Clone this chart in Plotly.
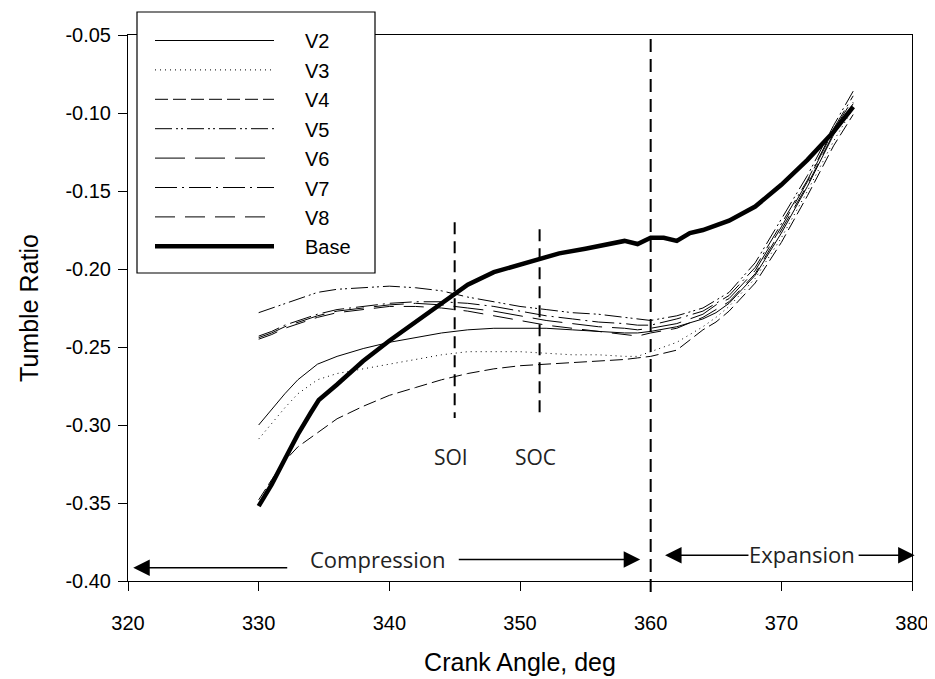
import plotly.graph_objects as go

# ---------------- data ----------------
crank_angle = [330, 331, 332, 333, 334.5, 336, 338, 340, 342, 344, 346, 348, 350, 352,
               354, 356, 358, 359, 360, 362, 364, 365, 366, 368, 370, 372, 374, 375.5]

v2 = [-0.300, -0.290, -0.280, -0.271, -0.261, -0.256, -0.251, -0.247, -0.244, -0.241,
      -0.239, -0.238, -0.238, -0.238, -0.239, -0.240, -0.241, -0.241, -0.240, -0.237,
      -0.232, -0.228, -0.222, -0.204, -0.177, -0.147, -0.114, -0.094]
v3 = [-0.309, -0.299, -0.289, -0.280, -0.271, -0.267, -0.264, -0.261, -0.258, -0.255,
      -0.253, -0.253, -0.253, -0.254, -0.255, -0.255, -0.256, -0.256, -0.253, -0.247,
      -0.237, -0.231, -0.224, -0.206, -0.180, -0.150, -0.118, -0.097]
v4 = [-0.348, -0.335, -0.323, -0.314, -0.305, -0.296, -0.288, -0.281, -0.276, -0.271,
      -0.267, -0.264, -0.262, -0.261, -0.260, -0.259, -0.258, -0.257, -0.256, -0.252,
      -0.239, -0.234, -0.227, -0.209, -0.183, -0.153, -0.121, -0.101]
v5 = [-0.228, -0.225, -0.222, -0.219, -0.215, -0.213, -0.212, -0.211, -0.212, -0.214,
      -0.218, -0.221, -0.224, -0.226, -0.228, -0.229, -0.231, -0.232, -0.233, -0.230,
      -0.225, -0.220, -0.215, -0.196, -0.168, -0.140, -0.108, -0.086]
v6 = [-0.244, -0.241, -0.237, -0.234, -0.230, -0.227, -0.225, -0.223, -0.222, -0.223,
      -0.225, -0.227, -0.230, -0.233, -0.235, -0.237, -0.238, -0.239, -0.238, -0.235,
      -0.229, -0.223, -0.219, -0.201, -0.173, -0.144, -0.111, -0.091]
v7 = [-0.243, -0.240, -0.236, -0.233, -0.229, -0.226, -0.224, -0.222, -0.221, -0.221,
      -0.222, -0.224, -0.227, -0.230, -0.232, -0.234, -0.235, -0.236, -0.236, -0.232,
      -0.227, -0.222, -0.217, -0.199, -0.171, -0.143, -0.110, -0.089]
v8 = [-0.245, -0.242, -0.238, -0.235, -0.231, -0.228, -0.226, -0.224, -0.224, -0.225,
      -0.227, -0.230, -0.233, -0.236, -0.238, -0.240, -0.242, -0.243, -0.241, -0.238,
      -0.231, -0.226, -0.221, -0.203, -0.175, -0.146, -0.113, -0.093]

base_angle = [330, 331, 332, 333, 334, 334.6, 336, 338, 340, 342, 344, 345, 346, 348, 350,
              351.5, 353, 355, 357, 358, 359, 360, 361, 362, 363, 364, 366, 368, 370,
              372, 374, 375.5]
base = [-0.352, -0.338, -0.322, -0.306, -0.292, -0.284, -0.274, -0.259, -0.246, -0.234,
        -0.222, -0.216, -0.210, -0.202, -0.197, -0.194, -0.190, -0.187, -0.184, -0.182,
        -0.184, -0.180, -0.180, -0.182, -0.177, -0.175, -0.169, -0.160, -0.146, -0.130,
        -0.112, -0.096]

series_names = ["V2", "V3", "V4", "V5", "V6", "V7", "V8"]
series_values = [v2, v3, v4, v5, v6, v7, v8]
series_dash = ["solid", "1px,4px", "13px,5px", "17px,4px,2px,3px,2px,4px",
               "30px,10px", "22px,5px,2px,5px", "20px,10px"]

x_ticks = [320, 330, 340, 350, 360, 370, 380]
y_ticks = [-0.05, -0.10, -0.15, -0.20, -0.25, -0.30, -0.35, -0.40]

markers_x = {"SOI": 345.0, "SOC": 351.5}

FONT = "Liberation Sans, Arial, sans-serif"
ANNOT_FONT = "Open Sans, sans-serif"

fig = go.Figure()

for name, vals, dash in zip(series_names, series_values, series_dash):
    fig.add_trace(go.Scatter(x=crank_angle, y=vals, mode="lines", name=name,
                             line=dict(color="black", width=1, dash=dash),
                             showlegend=False))

fig.add_trace(go.Scatter(x=base_angle, y=base, mode="lines", name="Base",
                         line=dict(color="black", width=4.5), showlegend=False))

# ---------- vertical markers ----------
for lbl, xv in markers_x.items():
    top = -0.170 if lbl == "SOI" else -0.1745
    fig.add_shape(type="line", xref="x", yref="y", x0=xv, x1=xv, y0=top, y1=-0.2955,
                  line=dict(color="black", width=2, dash="12px,7px"))
    fig.add_annotation(x=xv - 0.3, y=-0.3205, text=lbl, showarrow=False,
                       font=dict(family=ANNOT_FONT, size=21, color="#222"))

fig.add_shape(type="line", xref="x", yref="paper", x0=360, x1=360, y0=-0.02, y1=1.004,
              line=dict(color="black", width=2, dash="13px,7px"))

# ---------- compression / expansion arrows ----------
def arrow(x_tip, x_tail, y):
    fig.add_annotation(x=x_tip, y=y, ax=x_tail, ay=y, axref="x", ayref="y",
                       xref="x", yref="y", text="", showarrow=True,
                       arrowhead=2, arrowsize=2.2, arrowwidth=1.5, arrowcolor="black",
                       standoff=0, startstandoff=0)

arrow(320.4, 332.3, -0.3915)
arrow(359.2, 345.2, -0.3862)
arrow(361.1, 367.6, -0.3835)
arrow(380.2, 375.8, -0.3835)
fig.add_annotation(x=339.1, y=-0.386, text="Compression", showarrow=False,
                   font=dict(family=ANNOT_FONT, size=22, color="#222"))
fig.add_annotation(x=371.6, y=-0.383, text="Expansion", showarrow=False,
                   font=dict(family=ANNOT_FONT, size=22, color="#222"))

# ---------- legend (drawn manually to match long line samples) ----------
PL, PW, PB, PH = 128, 784, 581, 546  # plot area in reference pixels
def px(x):
    return (x - PL) / PW
def py(y):
    return (PB - y) / PH

fig.add_shape(type="rect", xref="paper", yref="paper", x0=px(137), x1=px(375),
              y0=py(273), y1=py(12), line=dict(color="black", width=1.2),
              fillcolor="white", layer="above")
leg_names = series_names + ["Base"]
leg_dash = series_dash + ["solid"]
leg_width = [1] * len(series_names) + [4.5]
for i, (nm, ds, wd) in enumerate(zip(leg_names, leg_dash, leg_width)):
    yc = 40.5 + i * 29.4
    fig.add_shape(type="line", xref="paper", yref="paper",
                  x0=px(155), x1=px(274), y0=py(yc), y1=py(yc),
                  line=dict(color="black", width=wd, dash=ds), layer="above")
    fig.add_annotation(xref="paper", yref="paper", x=px(303), y=py(yc + 1),
                       text=nm, showarrow=False, xanchor="left", yanchor="middle",
                       font=dict(family=FONT, size=20, color="black"))

# page body adds an 8px offset, so margins are shifted to compensate
fig.update_layout(
    width=935, height=679,
    margin=dict(l=120, r=31, t=27, b=106),
    paper_bgcolor="white", plot_bgcolor="white",
    font=dict(family=FONT, size=20, color="black"),
    showlegend=False,
)
fig.update_xaxes(range=[320, 380], tickvals=x_ticks, ticktext=[str(v) for v in x_ticks],
                 showgrid=False, zeroline=False, showline=True, linecolor="black",
                 linewidth=1, mirror=True, ticks="outside", ticklen=9, tickcolor="black",
                 tickfont=dict(size=20), ticklabelstandoff=15,
                 title=dict(text="Crank Angle, deg", font=dict(size=25), standoff=20))
fig.update_yaxes(range=[-0.40, -0.05], tickvals=y_ticks,
                 ticktext=["%.2f" % v for v in y_ticks],
                 showgrid=False, zeroline=False, showline=True, linecolor="black",
                 linewidth=1, mirror=True, ticks="outside", ticklen=9, tickcolor="black",
                 tickfont=dict(size=20), ticklabelstandoff=3,
                 title=dict(text="Tumble Ratio", font=dict(size=25), standoff=19))

fig.write_html("out.html")
